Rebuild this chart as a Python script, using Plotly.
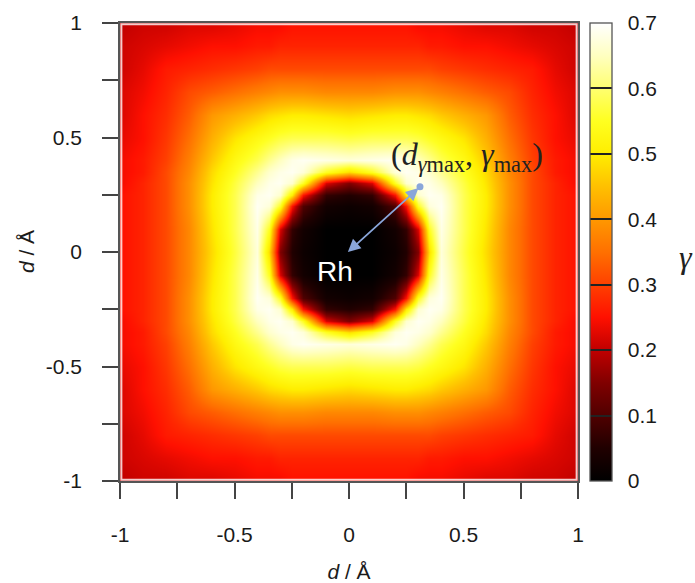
import plotly.graph_objects as go

# grid positions (Å) of the sampled quadrant, |x| and |y|
grid_coords = [0, 0.1, 0.2, 0.25, 0.3, 0.35, 0.4, 0.5, 0.6, 0.7, 0.8, 0.9, 1.0]

# gamma, upper triangle of the quadrant (row j holds i = j..12)
gamma_row0 = [0.0, 0.0, 0.02, 0.05, 0.15, 0.48, 0.67, 0.57, 0.48, 0.38, 0.31, 0.27, 0.25]
gamma_row1 = [0.0, 0.03, 0.07, 0.22, 0.55, 0.68, 0.58, 0.49, 0.38, 0.31, 0.27, 0.25]
gamma_row2 = [0.10, 0.25, 0.55, 0.67, 0.69, 0.58, 0.50, 0.39, 0.31, 0.27, 0.25]
gamma_row3 = [0.50, 0.66, 0.69, 0.68, 0.58, 0.50, 0.39, 0.31, 0.27, 0.25]
gamma_row4 = [0.69, 0.68, 0.65, 0.57, 0.49, 0.39, 0.31, 0.27, 0.24]
gamma_row5 = [0.66, 0.62, 0.55, 0.48, 0.38, 0.31, 0.26, 0.24]
gamma_row6 = [0.58, 0.53, 0.46, 0.37, 0.30, 0.26, 0.24]
gamma_row7 = [0.49, 0.43, 0.35, 0.29, 0.25, 0.23]
gamma_row8 = [0.40, 0.33, 0.28, 0.25, 0.22]
gamma_row9 = [0.31, 0.27, 0.24, 0.22]
gamma_row10 = [0.26, 0.23, 0.21]
gamma_row11 = [0.22, 0.21]
gamma_row12 = [0.20]

axis_tickvals = [-1, -0.5, 0, 0.5, 1]
axis_ticktext = ["-1", "-0.5", "0", "0.5", "1"]
cbar_tickvals = [0, 0.1, 0.2, 0.3, 0.4, 0.5, 0.6, 0.7]
cbar_ticktext = ["0", "0.1", "0.2", "0.3", "0.4", "0.5", "0.6", "0.7"]

gamma_max_point = (0.31, 0.285)
rh_label_pos = (-0.063, -0.085)

tri = [gamma_row0, gamma_row1, gamma_row2, gamma_row3, gamma_row4, gamma_row5,
       gamma_row6, gamma_row7, gamma_row8, gamma_row9, gamma_row10, gamma_row11,
       gamma_row12]
n = len(grid_coords)


def q(i, j):
    a, b = min(i, j), max(i, j)
    return tri[a][b - a]


full_coords = [-c for c in reversed(grid_coords[1:])] + grid_coords
full_idx = list(reversed(range(1, n))) + list(range(n))
z = [[q(ix, iy) for ix in full_idx] for iy in full_idx]

colorscale = [
    [0.0, "#000000"], [0.0714, "#200000"], [0.1429, "#500000"], [0.2143, "#800000"],
    [0.2857, "#c00000"], [0.3571, "#ff1000"], [0.4286, "#ff4000"], [0.5, "#ff7000"],
    [0.5714, "#ff9800"], [0.6429, "#ffc000"], [0.7143, "#ffee00"], [0.7857, "#ffff20"],
    [0.8571, "#ffff70"], [0.9286, "#ffffc0"], [1.0, "#ffffff"],
]

tickfont = dict(family="Liberation Sans, Arial, sans-serif", size=21, color="#1a1a1a")

fig = go.Figure()
fig.add_trace(go.Heatmap(
    x=full_coords, y=full_coords, z=z, zmin=0, zmax=0.7, zsmooth="best",
    colorscale=colorscale, hoverinfo="skip",
    colorbar=dict(
        x=1.026, xanchor="left", xpad=0, y=0.5, yanchor="middle", len=1, ypad=0,
        thickness=22, outlinewidth=1.3, outlinecolor="#555555",
        ticks="inside", ticklen=22, tickwidth=1.5, tickcolor="#222222",
        tickvals=cbar_tickvals, ticktext=["\u2002" + t for t in cbar_ticktext],
        tickfont=tickfont,
    ),
))

fig.add_trace(go.Scatter(
    x=[gamma_max_point[0]], y=[gamma_max_point[1]], mode="markers",
    marker=dict(size=7, color="#8aa6da"), hoverinfo="skip", showlegend=False,
))

fig.add_annotation(
    x=-0.005, y=0.0, ax=gamma_max_point[0], ay=gamma_max_point[1],
    xref="x", yref="y", axref="x", ayref="y", text="", showarrow=True,
    arrowside="end+start", arrowhead=2, arrowsize=1.4, arrowwidth=1.8,
    arrowcolor="#8aa6da",
)
fig.add_annotation(
    x=rh_label_pos[0], y=rh_label_pos[1], xref="x", yref="y", text="Rh",
    showarrow=False, font=dict(family="Liberation Sans, Arial, sans-serif", size=28, color="white"),
)
fig.add_annotation(
    x=0.514, y=0.415, xref="x", yref="y",
    text="(<i>d</i><sub><i>γ</i>max</sub>, <i>γ</i><sub>max</sub>)",
    showarrow=False, font=dict(family="Liberation Serif, Times New Roman, serif", size=32, color="#222222"),
)
fig.add_annotation(
    x=1.255, y=0.49, xref="paper", yref="paper", text="<i>γ</i>", showarrow=False,
    font=dict(family="Liberation Serif, Times New Roman, serif", size=32, color="#222222"),
)
# y-axis title placed as text so it can sit where the reference has it
fig.add_annotation(
    x=-0.205, y=0.5, xref="paper", yref="paper", xanchor="center", yanchor="middle",
    text="<i>d</i> / Å", showarrow=False, textangle=-90, font=tickfont,
)

fig.add_shape(type="rect", x0=-0.994, x1=0.994, y0=-0.994, y1=0.994, xref="x", yref="y",
              line=dict(color="rgba(255,255,255,0.8)", width=2), layer="above")

axis_common = dict(
    range=[-1, 1], tickvals=axis_tickvals, ticktext=axis_ticktext, ticks="outside",
    ticklen=16, tickwidth=1.5, tickcolor="#444444", showline=True, mirror=True,
    linecolor="#555555", linewidth=1.5, showgrid=False, zeroline=False,
    tickfont=tickfont, automargin=False,
    minor=dict(dtick=0.25, tick0=0, ticks="outside", ticklen=16, tickwidth=1.5,
               tickcolor="#444444", showgrid=False),
)

fig.update_layout(
    width=695, height=583, margin=dict(l=120, r=117, t=23, b=102, autoexpand=False),
    paper_bgcolor="white", plot_bgcolor="white", showlegend=False,
    xaxis=dict(**axis_common, ticklabelstandoff=18,
               title=dict(text="<i>d</i> / Å", font=tickfont, standoff=28)),
    yaxis=dict(**axis_common, ticklabelstandoff=16),
)

fig.write_html("out.html")
